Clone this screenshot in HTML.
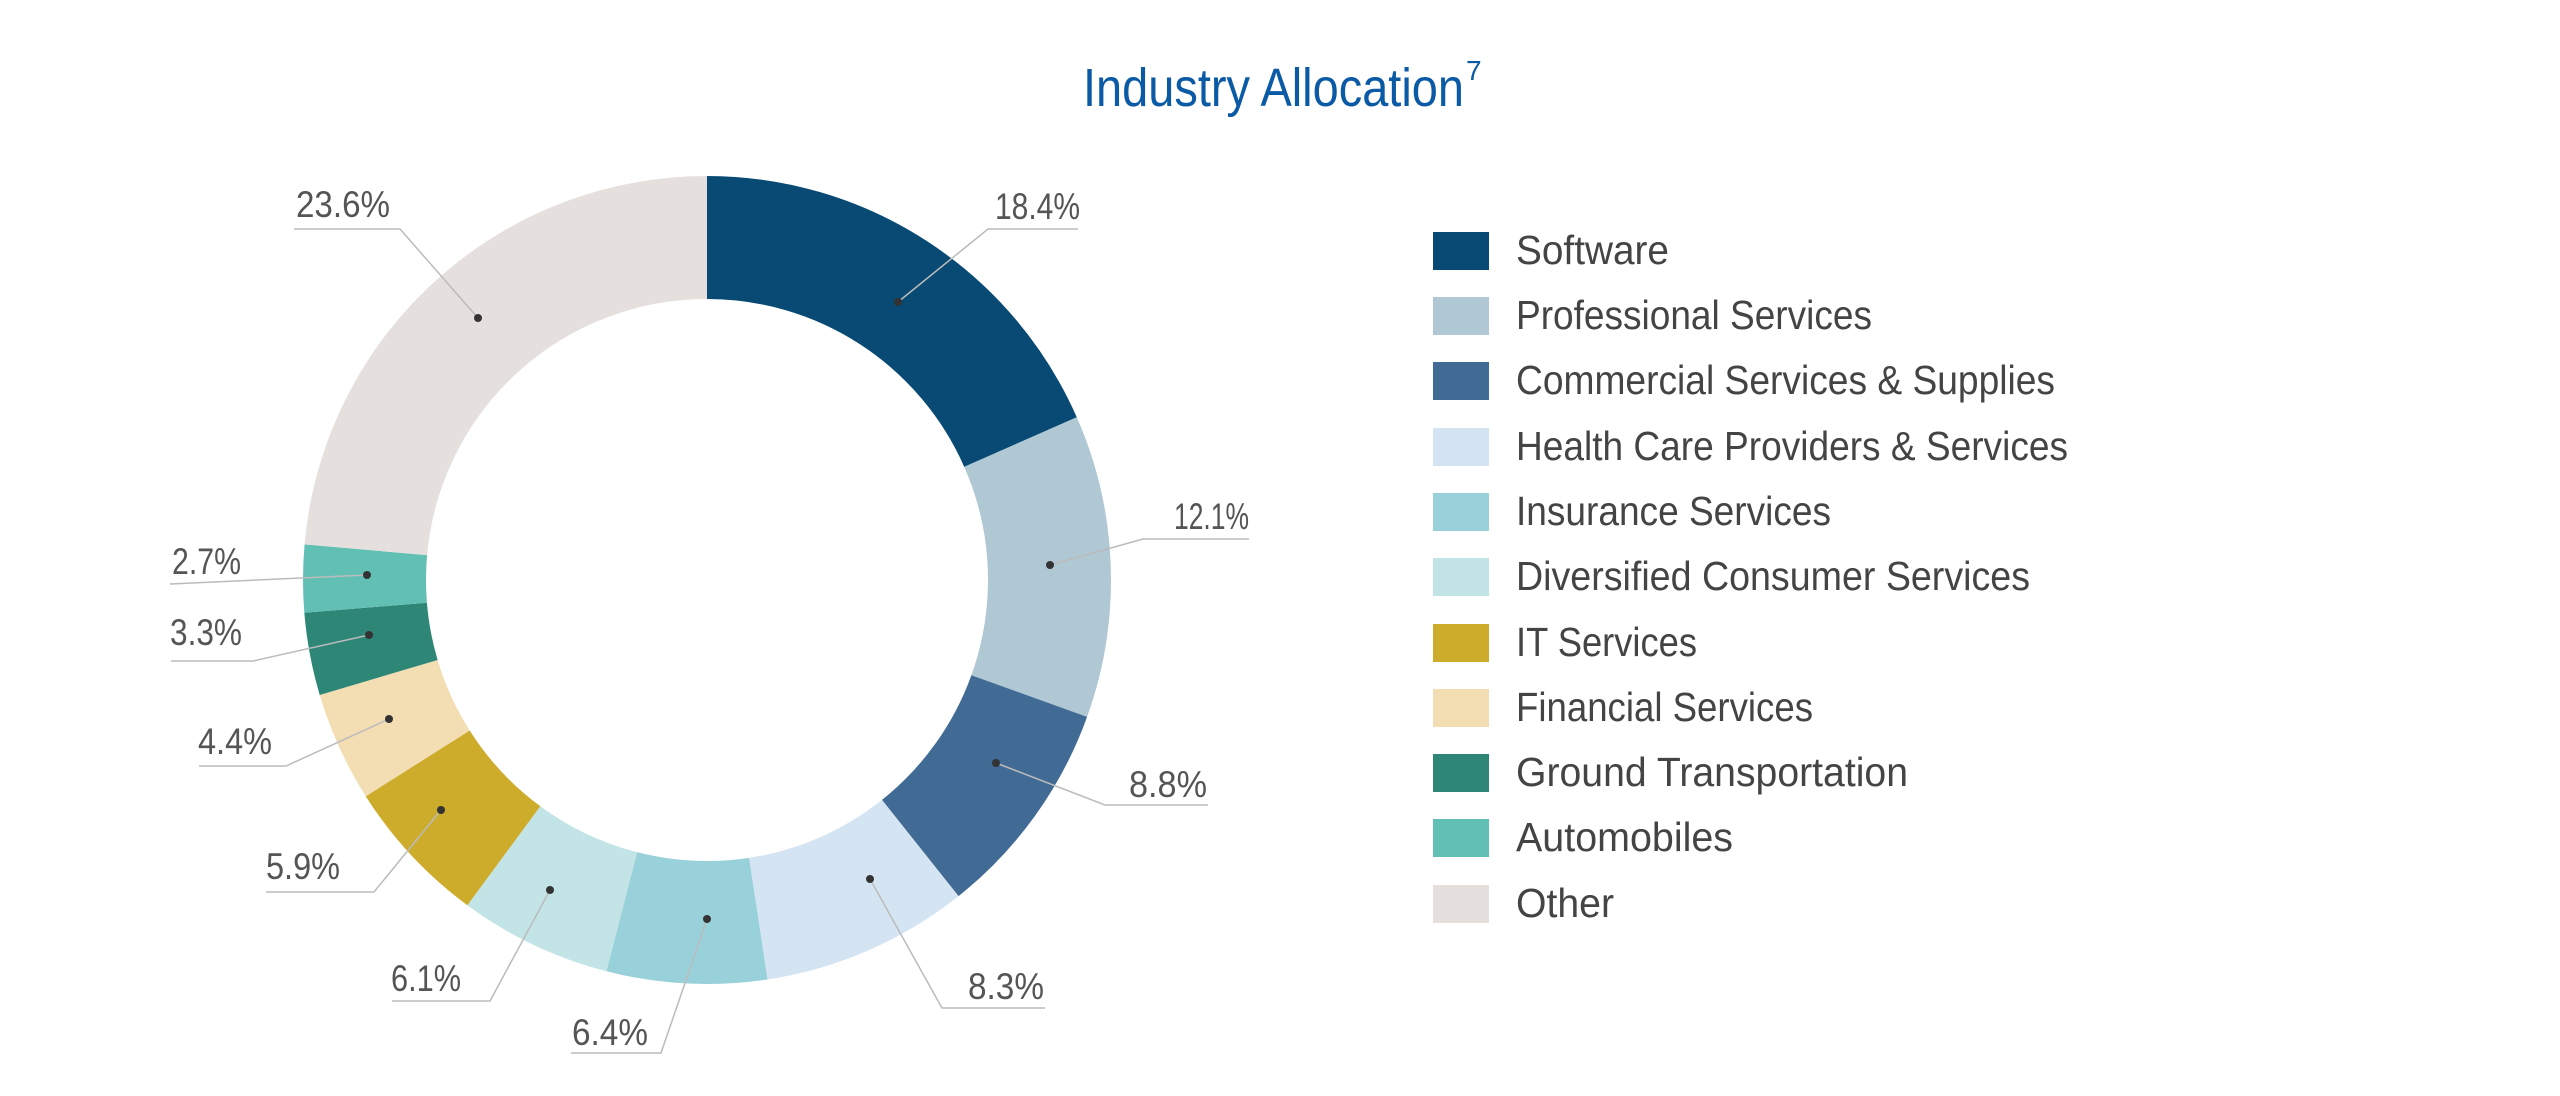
<!DOCTYPE html>
<html><head><meta charset="utf-8"><style>
html,body{margin:0;padding:0;background:#fff;}
svg{display:block;}
text{font-family:"Liberation Sans",sans-serif;}
</style></head><body>
<svg width="2560" height="1096" viewBox="0 0 2560 1096" xmlns="http://www.w3.org/2000/svg">
<text x="1083" y="106" font-size="54" fill="#0b5aa6" textLength="381" lengthAdjust="spacingAndGlyphs">Industry Allocation</text>
<text x="1466" y="80" font-size="28" fill="#0b5aa6">7</text>
<g transform="rotate(-90 707 580)" fill="none" stroke-width="123">
<circle cx="707" cy="580" r="342.5" stroke="#084a74" stroke-dasharray="395.97 2152" stroke-dashoffset="0"/>
<circle cx="707" cy="580" r="342.5" stroke="#b0c8d4" stroke-dasharray="260.39 2152" stroke-dashoffset="-395.97"/>
<circle cx="707" cy="580" r="342.5" stroke="#416b94" stroke-dasharray="189.38 2152" stroke-dashoffset="-656.36"/>
<circle cx="707" cy="580" r="342.5" stroke="#d5e4f2" stroke-dasharray="178.62 2152" stroke-dashoffset="-845.73"/>
<circle cx="707" cy="580" r="342.5" stroke="#99d1da" stroke-dasharray="137.73 2152" stroke-dashoffset="-1024.35"/>
<circle cx="707" cy="580" r="342.5" stroke="#c3e4e6" stroke-dasharray="131.27 2152" stroke-dashoffset="-1162.07"/>
<circle cx="707" cy="580" r="342.5" stroke="#cdab2b" stroke-dasharray="126.97 2152" stroke-dashoffset="-1293.35"/>
<circle cx="707" cy="580" r="342.5" stroke="#f3ddb3" stroke-dasharray="94.69 2152" stroke-dashoffset="-1420.31"/>
<circle cx="707" cy="580" r="342.5" stroke="#2e8676" stroke-dasharray="71.02 2152" stroke-dashoffset="-1515.00"/>
<circle cx="707" cy="580" r="342.5" stroke="#62bfb4" stroke-dasharray="58.10 2152" stroke-dashoffset="-1586.02"/>
<circle cx="707" cy="580" r="342.5" stroke="#e5e0de" stroke-dasharray="507.87 2152" stroke-dashoffset="-1644.12"/>
</g>
<g stroke="#bbb" stroke-width="1.5" fill="none">
<polyline points="898,302 988,229 1078,229"/>
<polyline points="1050,565 1143,539 1249,539"/>
<polyline points="996,763 1105,805 1208,805"/>
<polyline points="870,879 942,1008 1045,1008"/>
<polyline points="707,919 661,1053 571,1053"/>
<polyline points="550,890 490,1001 392,1001"/>
<polyline points="441,810 374,892 266,892"/>
<polyline points="389,719 286,766 199,766"/>
<polyline points="369,635 253,661 171,661"/>
<polyline points="367,575 170,584"/>
<polyline points="478,318 400,229 294,229"/>
</g>
<g fill="#333">
<circle cx="898" cy="302" r="4"/><circle cx="1050" cy="565" r="4"/><circle cx="996" cy="763" r="4"/>
<circle cx="870" cy="879" r="4"/><circle cx="707" cy="919" r="4"/><circle cx="550" cy="890" r="4"/>
<circle cx="441" cy="810" r="4"/><circle cx="389" cy="719" r="4"/><circle cx="369" cy="635" r="4"/>
<circle cx="367" cy="575" r="4"/><circle cx="478" cy="318" r="4"/>
</g>
<g font-size="37" fill="#555">
<text x="995" y="219" textLength="85" lengthAdjust="spacingAndGlyphs">18.4%</text>
<text x="1174" y="529" textLength="75" lengthAdjust="spacingAndGlyphs">12.1%</text>
<text x="1129" y="797" textLength="78" lengthAdjust="spacingAndGlyphs">8.8%</text>
<text x="968" y="999" textLength="76" lengthAdjust="spacingAndGlyphs">8.3%</text>
<text x="572" y="1045" textLength="76" lengthAdjust="spacingAndGlyphs">6.4%</text>
<text x="391" y="991" textLength="70" lengthAdjust="spacingAndGlyphs">6.1%</text>
<text x="266" y="879" textLength="74" lengthAdjust="spacingAndGlyphs">5.9%</text>
<text x="198" y="754" textLength="74" lengthAdjust="spacingAndGlyphs">4.4%</text>
<text x="170" y="645" textLength="72" lengthAdjust="spacingAndGlyphs">3.3%</text>
<text x="172" y="574" textLength="69" lengthAdjust="spacingAndGlyphs">2.7%</text>
<text x="296" y="217" textLength="94" lengthAdjust="spacingAndGlyphs">23.6%</text>
</g>
<g transform="translate(0,-16)">
<rect x="1433" y="248" width="56" height="38" fill="#084a74"/>
<rect x="1433" y="313" width="56" height="38" fill="#b0c8d4"/>
<rect x="1433" y="378" width="56" height="38" fill="#416b94"/>
<rect x="1433" y="444" width="56" height="38" fill="#d5e4f2"/>
<rect x="1433" y="509" width="56" height="38" fill="#99d1da"/>
<rect x="1433" y="574" width="56" height="38" fill="#c3e4e6"/>
<rect x="1433" y="640" width="56" height="38" fill="#cdab2b"/>
<rect x="1433" y="705" width="56" height="38" fill="#f3ddb3"/>
<rect x="1433" y="770" width="56" height="38" fill="#2e8676"/>
<rect x="1433" y="835" width="56" height="38" fill="#62bfb4"/>
<rect x="1433" y="901" width="56" height="38" fill="#e5e0de"/>
</g>
<g font-size="41" fill="#444" transform="translate(0,-25)">
<text x="1516" y="289" textLength="153" lengthAdjust="spacingAndGlyphs">Software</text>
<text x="1516" y="354" textLength="356" lengthAdjust="spacingAndGlyphs">Professional Services</text>
<text x="1516" y="419" textLength="539" lengthAdjust="spacingAndGlyphs">Commercial Services &amp; Supplies</text>
<text x="1516" y="485" textLength="552" lengthAdjust="spacingAndGlyphs">Health Care Providers &amp; Services</text>
<text x="1516" y="550" textLength="315" lengthAdjust="spacingAndGlyphs">Insurance Services</text>
<text x="1516" y="615" textLength="514" lengthAdjust="spacingAndGlyphs">Diversified Consumer Services</text>
<text x="1516" y="681" textLength="181" lengthAdjust="spacingAndGlyphs">IT Services</text>
<text x="1516" y="746" textLength="297" lengthAdjust="spacingAndGlyphs">Financial Services</text>
<text x="1516" y="811" textLength="392" lengthAdjust="spacingAndGlyphs">Ground Transportation</text>
<text x="1516" y="876" textLength="217" lengthAdjust="spacingAndGlyphs">Automobiles</text>
<text x="1516" y="942" textLength="98" lengthAdjust="spacingAndGlyphs">Other</text>
</g>
</svg>
</body></html>
